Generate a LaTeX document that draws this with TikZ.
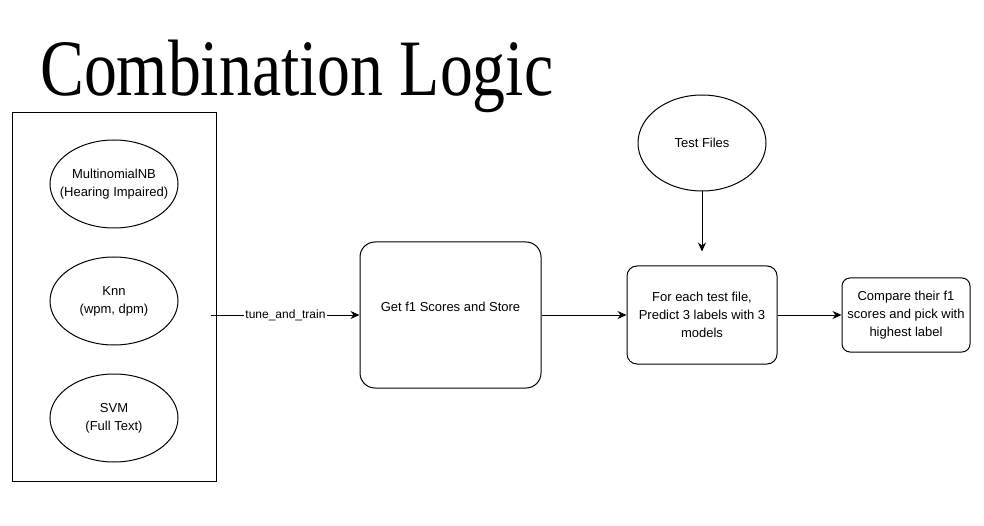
\documentclass[tikz,border=0pt]{standalone}
\usepackage{graphicx}
\usepackage{fontspec}
\setmainfont{Liberation Serif}
\setsansfont{Liberation Sans}
\usetikzlibrary{shapes.geometric, arrows.meta, positioning}

% text in an oval, kept from widening the oval
\newcommand{\ovaltext}[1]{\makebox[0pt]{\begin{tabular}{@{}c@{}}#1\end{tabular}}}

\begin{document}
\begin{tikzpicture}[
    x=1pt, y=-1pt,
    font=\sffamily\fontsize{13}{18}\selectfont,
    model/.style={ellipse, draw=black, line width=1pt, minimum width=128pt, minimum height=88pt, inner sep=0pt},
    stage/.style={rectangle, draw=black, line width=1pt, text centered, align=center},
    arrow/.style={line width=1pt, -{Stealth[length=9pt, width=8pt]}},
]
    \useasboundingbox (0,0) rectangle (984,526);

    % heading
    \node (title) [anchor=base west, inner sep=0pt] at (40,96)
        {\resizebox{513pt}{\height}{\rmfamily\fontsize{80}{80}\selectfont Combination Logic}};

    % the three models
    \node (models) [draw=black, line width=0.9pt, minimum width=204pt, minimum height=369pt] at (114,296.5) {};
    \node (mnb) [model] at (114,184) {\ovaltext{MultinomialNB\\(Hearing Impaired)}};
    \node (knn) [model, below=28pt of mnb] {\ovaltext{Knn\\(wpm, dpm)}};
    \node (svm) [model, below=28pt of knn] {\ovaltext{SVM\\(Full Text)}};

    % pipeline
    \node (scores) [stage, rounded corners=15pt, minimum width=181pt, minimum height=146pt] at (450.5,315) {\raisebox{16pt}{Get f1 Scores and Store}};
    \node (predict) [stage, rounded corners=10pt, minimum width=150pt, minimum height=98pt] at (702,315)
        {For each test file,\\Predict 3 labels with 3\\models};
    \node (compare) [stage, rounded corners=8pt, minimum width=128pt, minimum height=74pt, right=64pt of predict]
        {Compare their f1\\scores and pick with\\highest label};
    \node (testfiles) [model, minimum height=96pt, above=74pt of predict] {Test Files};
    \coordinate (tf_end) at ([yshift=14pt]predict.north);

    \draw [arrow] ([xshift=-5pt]models.east |- predict.west) -- node[fill=white, inner sep=1pt, font=\sffamily\fontsize{12}{14}\selectfont] {tune\_and\_train} (scores.west |- predict.west);
    \draw [arrow] (scores.east |- predict.west) -- (predict.west);
    \draw [arrow] (testfiles) -- (tf_end);
    \draw [arrow] (predict) -- (compare);

\end{tikzpicture}
\end{document}
